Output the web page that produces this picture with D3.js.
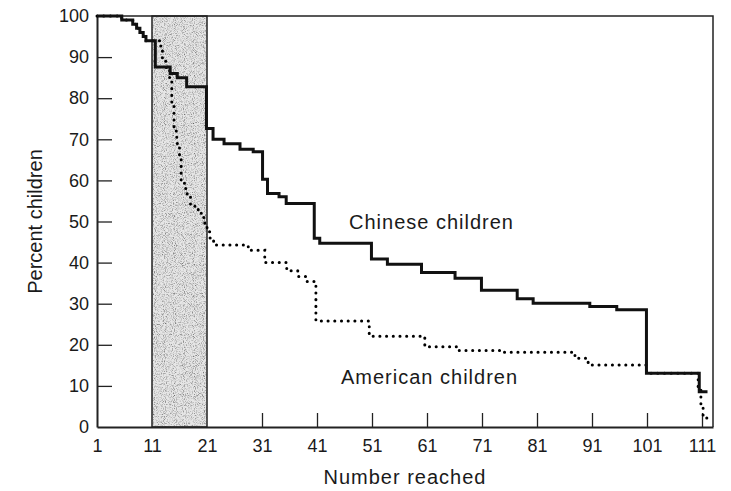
<!DOCTYPE html>
<html>
<head>
<meta charset="utf-8">
<script src="https://cdn.jsdelivr.net/npm/d3@7"></script>
<style>
  body { margin: 0; background: #fff; }
  svg { display: block; font-family: "Liberation Sans", Arial, sans-serif; }
  .tick text { font-size: 18px; fill: #1a1a1a; }
  .lbl { font-size: 20px; fill: #1a1a1a; letter-spacing: 1px; }
</style>
</head>
<body>
<script>
// Chinese children: step points (number reached, percent still counting)
const chineseN = [1, 5.5, 7.5, 8.2, 8.8, 9.4, 9.9, 11.6, 14.3, 15.6, 17.3, 20.9, 22.1, 24.1, 27, 29.4, 31.1, 32, 34.1, 35.4, 40.5, 41.5, 50.9, 53.8, 60, 66.1, 70.9, 77.4, 80.3, 90.6, 95.5, 100.9, 110.5, 112];
const chinesePct = [100, 99, 98, 97, 96, 95, 94, 87.6, 86, 85, 82.8, 72.6, 70, 68.9, 67.6, 67, 60.3, 56.8, 56, 54.4, 45.9, 44.7, 40.9, 39.6, 37.6, 36.2, 33.3, 31.2, 30.1, 29.3, 28.5, 13.1, 8.6, 8.6];

// American children
const americanN = [1, 5.5, 7.5, 8.2, 8.8, 9.4, 9.9, 12.6, 12.9, 13.6, 14.2, 14.6, 15.0, 15.5, 16.0, 16.3, 16.9, 17.4, 18.0, 18.8, 19.4, 20.0, 20.6, 21.0, 21.5, 22.2, 28.5, 31.5, 35.5, 37.5, 39.0, 40.8, 50.5, 60.6, 66.8, 75, 87.9, 90.3, 100.9, 110.3, 110.8, 111.2, 112.8];
const americanPct = [100, 99, 98, 97, 96, 95, 94, 92, 89, 87, 85, 78, 72, 69, 66, 60, 58, 56, 54, 53, 52, 51, 49, 47.5, 46, 44.3, 43, 40, 38, 36.6, 35.4, 25.8, 22.1, 19.5, 18.6, 18.2, 16.7, 15.1, 13.1, 9, 5, 2.2, 2.2];

const xTicks = [1, 11, 21, 31, 41, 51, 61, 71, 81, 91, 101, 111];
const yTicks = [0, 10, 20, 30, 40, 50, 60, 70, 80, 90, 100];
const shadeRange = [11, 21];

const width = 731, height = 491;
const margin = { left: 97, right: 18, top: 16, bottom: 64 };

const svg = d3.select('body').append('svg')
    .attr('width', width)
    .attr('height', height);

// stipple texture for the shaded band
const filter = svg.append('defs').append('filter')
    .attr('id', 'stipple')
    .attr('x', 0).attr('y', 0).attr('width', 1).attr('height', 1);
filter.append('feTurbulence')
    .attr('type', 'fractalNoise')
    .attr('baseFrequency', 1.1)
    .attr('numOctaves', 1)
    .attr('seed', 4)
    .attr('result', 'noise');
filter.append('feColorMatrix')
    .attr('in', 'noise')
    .attr('type', 'matrix')
    .attr('values', '0 0 0 0 0  0 0 0 0 0  0 0 0 0 0  2.2 0 0 0 -1.0')
    .attr('result', 'specks');
filter.append('feComposite')
    .attr('in', 'specks')
    .attr('in2', 'SourceGraphic')
    .attr('operator', 'in')
    .attr('result', 'clipped');
const merge = filter.append('feMerge');
merge.append('feMergeNode').attr('in', 'SourceGraphic');
merge.append('feMergeNode').attr('in', 'clipped');

const x = d3.scaleLinear()
    .domain([1, 113])
    .range([margin.left, width - margin.right]);

const y = d3.scaleLinear()
    .domain([0, 100])
    .range([height - margin.bottom, margin.top]);

// shaded band 11-21
svg.append('rect')
    .attr('x', x(shadeRange[0]))
    .attr('y', y(100))
    .attr('width', x(shadeRange[1]) - x(shadeRange[0]))
    .attr('height', y(0) - y(100))
    .attr('fill', '#e6e6e6')
    .attr('filter', 'url(#stipple)');

svg.append('rect')
    .attr('x', x(shadeRange[0]))
    .attr('y', y(100))
    .attr('width', x(shadeRange[1]) - x(shadeRange[0]))
    .attr('height', y(0) - y(100))
    .attr('fill', 'none')
    .attr('stroke', '#222')
    .attr('stroke-width', 1.5);

// frame (top + right)
svg.append('path')
    .attr('d', `M${x(1)},${y(100)}H${x(113)}V${y(0)}`)
    .attr('fill', 'none')
    .attr('stroke', '#222')
    .attr('stroke-width', 1.5);

const xAxis = d3.axisBottom(x)
    .tickValues(xTicks)
    .tickSizeInner(-14)
    .tickSizeOuter(0)
    .tickPadding(12);

const xg = svg.append('g')
    .attr('transform', `translate(0, ${y(0)})`)
    .call(xAxis);

const yAxis = d3.axisLeft(y)
    .tickValues(yTicks)
    .tickSizeInner(-15)
    .tickSizeOuter(0)
    .tickPadding(8);

const yg = svg.append('g')
    .attr('transform', `translate(${x(1)}, 0)`)
    .call(yAxis);

[xg, yg].forEach(g => {
    g.select('.domain').attr('stroke', '#222').attr('stroke-width', 2);
    g.selectAll('.tick line').attr('stroke', '#222').attr('stroke-width', 1.3);
});
// no inner tick where the axis or band edges already are
xg.selectAll('.tick line').filter(d => d <= 21).remove();
yg.selectAll('.tick line').filter(d => d == 0 || d == 100).remove();

const line = d3.line()
    .x(d => x(d[0]))
    .y(d => y(d[1]))
    .curve(d3.curveStepAfter);

const american = americanN.map((n, i) => [n, americanPct[i]]);
const chinese = chineseN.map((n, i) => [n, chinesePct[i]]);

svg.append('path')
    .datum(american)
    .attr('d', line)
    .attr('fill', 'none')
    .attr('stroke', '#000')
    .attr('stroke-width', 3)
    .attr('stroke-linecap', 'round')
    .attr('stroke-dasharray', '0.1 6.6');

svg.append('path')
    .datum(chinese)
    .attr('d', line)
    .attr('fill', 'none')
    .attr('stroke', '#111')
    .attr('stroke-width', 3);

// labels
svg.append('text').attr('class', 'lbl')
    .attr('x', 349).attr('y', 229)
    .text('Chinese children');

svg.append('text').attr('class', 'lbl')
    .attr('x', 341).attr('y', 384)
    .text('American children');

svg.append('text').attr('class', 'lbl')
    .attr('x', (x(1) + x(113)) / 2).attr('y', 484)
    .attr('text-anchor', 'middle')
    .text('Number reached');

svg.append('text').attr('class', 'lbl')
    .attr('transform', `translate(42, ${(y(0) + y(100)) / 2}) rotate(-90)`)
    .attr('text-anchor', 'middle')
    .style('letter-spacing', '0px')
    .text('Percent children');
</script>
</body>
</html>
